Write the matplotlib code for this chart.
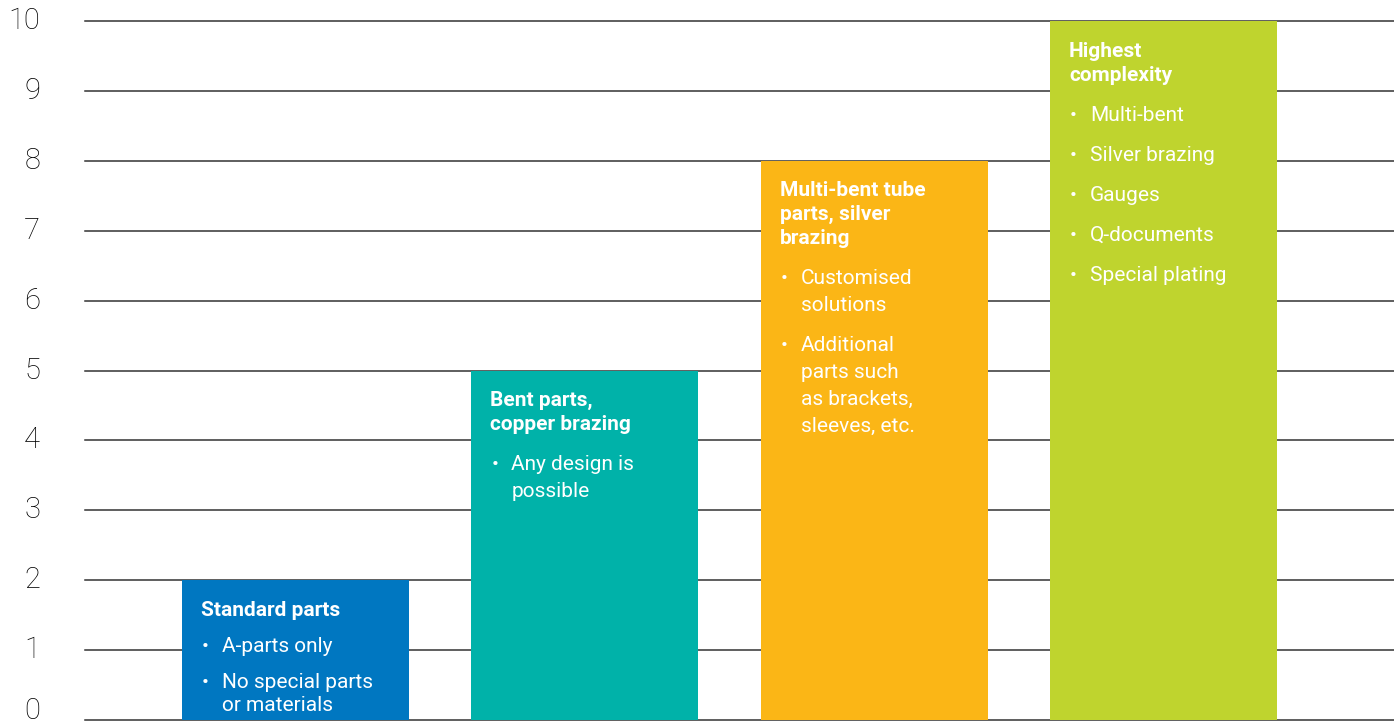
import matplotlib.pyplot as plt

# data
categories = ["Standard parts", "Bent parts", "Multi-bent tube", "Highest complexity"]
levels = [2, 5, 8, 10]
colors = ["#0077c1", "#00b2a9", "#fbb616", "#bfd42e"]
headers = [
    ["Standard parts"],
    ["Bent parts,", "copper brazing"],
    ["Multi-bent tube", "parts, silver", "brazing"],
    ["Highest", "complexity"],
]
bullets = [
    [["A-parts only"], ["No special parts", "or materials"]],
    [["Any design is", "possible"]],
    [["Customised", "solutions"], ["Additional", "parts such", "as brackets,", "sleeves, etc."]],
    [["Multi-bent"], ["Silver brazing"], ["Gauges"], ["Q-documents"], ["Special plating"]],
]
yticks = list(range(0, 11))

plt.rcParams['font.family'] = ['Roboto', 'DejaVu Sans']

fig = plt.figure(figsize=(13.94, 7.25), dpi=100)
ax = fig.add_axes([0.061, 0.0069, 0.939, 0.9641])

xs = list(range(len(categories)))
width = 0.785
ax.bar(xs, levels, width=width, color=colors, zorder=3)

ax.set_xlim(-0.728, 3.797)
ax.set_ylim(0, 10)
ax.set_yticks(yticks)
ax.set_yticklabels([])
ax.tick_params(axis='y', length=0)
ax.set_xticks([])
for s in ax.spines.values():
    s.set_visible(False)
for t in yticks:
    ax.axhline(t, color='#333333', lw=1.1, zorder=1, clip_on=False)
    # y labels drawn by hand so the "0" can sit a bit higher
    ax.annotate(str(t), xy=(0, t), xycoords=ax.get_yaxis_transform(),
                xytext=(-45, 9 if t == 0 else 0), textcoords='offset pixels',
                ha='right', va='center', fontsize=21, fontweight='light',
                color='#000000', annotation_clip=False)

# text inside bars (offsets in pixels from bar's top-left corner)
bold_step = 24
line_step = 27
gap = 40
for i, x in enumerate(xs):
    left = x - width / 2
    top = levels[i]
    y = -30
    for j, line in enumerate(headers[i]):
        ax.annotate(line, xy=(left, top), xytext=(19, y), textcoords='offset pixels',
                    ha='left', va='center', fontsize=15, fontweight='bold', color='white', zorder=4)
        y -= bold_step
    y += bold_step
    for b in bullets[i]:
        y -= gap if i != 0 else 36
        ax.annotate("•", xy=(left, top), xytext=(20, y), textcoords='offset pixels',
                    ha='left', va='center', fontsize=15, color='white', zorder=4)
        for k, line in enumerate(b):
            if k > 0:
                y -= line_step if i != 0 else 23
            ax.annotate(line, xy=(left, top), xytext=(40, y), textcoords='offset pixels',
                        ha='left', va='center', fontsize=15, fontweight='normal', color='white', zorder=4)

fig.savefig("out.png", dpi=100)
